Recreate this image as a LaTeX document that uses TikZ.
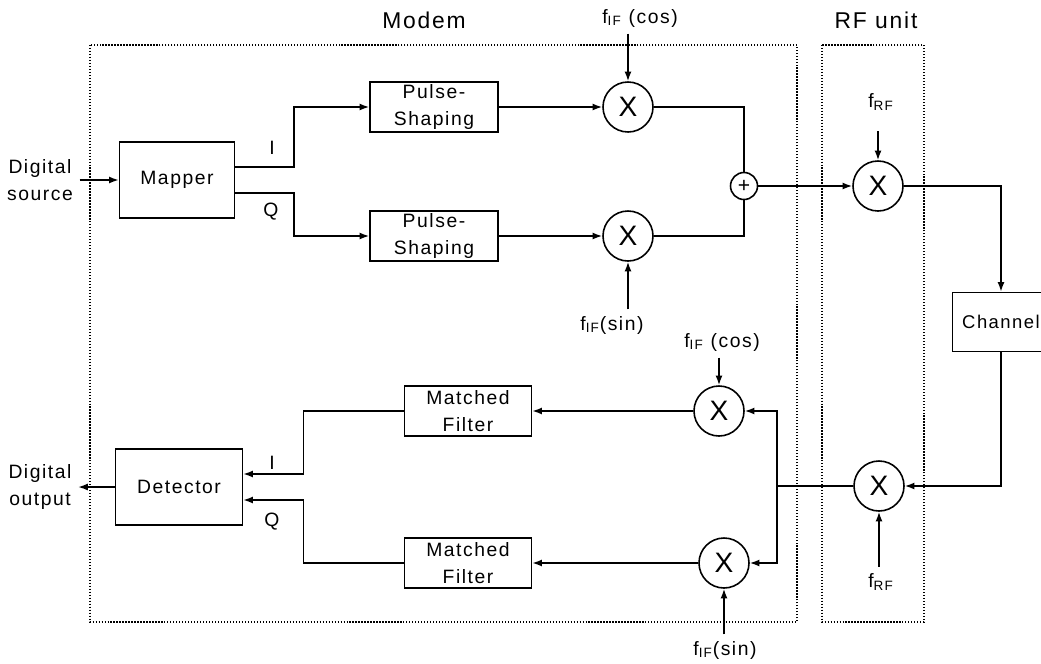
\documentclass[tikz,border=0pt]{standalone}
\usepackage{fontspec}
\setmainfont[LetterSpace=8]{Liberation Sans}
\usetikzlibrary{positioning, calc, arrows.meta}

\begin{document}
\begin{tikzpicture}[x=0.2mm,y=-0.2mm,line width=0.9pt,>={Latex[length=5.5pt,width=4pt]},
    font=\fontsize{11}{15}\selectfont,
    blk/.style={draw, align=center, minimum height=10mm, inner sep=1pt},
    mix/.style={draw, circle, minimum size=10mm, inner sep=0pt, font=\fontsize{16}{16}\selectfont},
    unit/.style={draw, densely dotted, line width=0.7pt}]

    \useasboundingbox (0,0) rectangle (1041,663);

    % Dotted frames
    \draw[unit] (90,45) rectangle (797,622);
    \draw[unit] (822,45) rectangle (924,622);
    \node[font=\fontsize{13}{15}\selectfont] (modem) at (424,20) {Modem};
    \node[font=\fontsize{13}{15}\selectfont] (rfunit) at (876,20) {RF unit};

    % Transmitter blocks
    \node[blk, minimum width=23mm, minimum height=15.2mm] (mapper) at (177,180) {Mapper};
    \node[blk, minimum width=25.6mm] (ps1) at (434,107) {Pulse-\\Shaping};
    \node[blk, minimum width=25.6mm] (ps2) at (434,236) {Pulse-\\Shaping};
    \node[mix] (mixc) at (628,107) {X};
    \node[mix] (mixs) at (628,236) {X};
    \node[draw, circle, minimum size=5.4mm, inner sep=0pt, font=\fontsize{12}{12}\selectfont] (sum) at (744,186) {+};
    \node[mix] (rftx) at (878,186) {X};
    \node[blk, minimum width=19.4mm, minimum height=11.8mm, font=\fontsize{10.5}{13}\selectfont] (chan) at (1001,322) {Channel};

    % Receiver blocks
    \node[mix] (rfrx) at (879,486) {X};
    \coordinate (split) at (777,486);
    \node[mix] (mixrc) at (719,411) {X};
    \node[mix] (mixrs) at (724,563) {X};
    \node[blk, minimum width=25.4mm] (mf1) at (468,411) {Matched\\Filter};
    \node[blk, minimum width=25.4mm] (mf2) at (468,563) {Matched\\Filter};
    \node[blk, minimum width=25.4mm, minimum height=15.2mm] (det) at (179,487) {Detector};

    % Labels
    \node[align=center] (src) at (40,180) {Digital\\source};
    \node[align=center] (out) at (40,487) {Digital\\output};
    \node (ti) at (272,148) {I};
    \node (tq) at (271,212) {Q};
    \node (ri) at (272,463) {I};
    \node (rq) at (272,522) {Q};
    \node (lc1) at (640,18) {f\textsubscript{IF} (cos)};
    \node (ls1) at (612,325) {f\textsubscript{IF}(sin)};
    \node (lrf1) at (881,102) {f\textsubscript{RF}};
    \node (lrf2) at (881,582) {f\textsubscript{RF}};
    \node (lc2) at (722,342) {f\textsubscript{IF} (cos)};
    \node (ls2) at (725,650) {f\textsubscript{IF}(sin)};

    % Transmit path
    \draw[->] (src.east) -- (mapper.west);
    \draw[->] ($(mapper.east)+(0,-13)$) -| ($(ps1.west)+(-75,0)$) -- (ps1.west);
    \draw[->] ($(mapper.east)+(0,13)$) -| ($(ps2.west)+(-75,0)$) -- (ps2.west);
    \draw[->] (ps1) -- (mixc);
    \draw[->] (ps2) -- (mixs);
    \draw (mixc) -| (sum);
    \draw (mixs) -| (sum);
    \draw[->] (sum) -- (rftx);
    \draw[->] (rftx) -| (chan);
    \draw[->] (lc1.south -| mixc) -- (mixc);
    \draw[->] (ls1.north -| mixs) -- (mixs);
    \draw[->, shorten <=8pt] (lrf1.south -| rftx) -- (rftx);

    % Receive path
    \draw[->] (chan) |- (rfrx);
    \draw[->] (lrf2.north -| rfrx) -- (rfrx);
    \draw (rfrx) -- (split);
    \draw[->] (split) |- (mixrc);
    \draw[->] (split) |- (mixrs);
    \draw[->] (lc2.south -| mixrc) -- (mixrc);
    \draw[->] (ls2.north -| mixrs) -- (mixrs);
    \draw[->] (mixrc) -- (mf1);
    \draw[->] (mixrs) -- (mf2);
    \draw[->] (mf1.west) -| ($(det.east)+(60,-13)$) -- ($(det.east)+(0,-13)$);
    \draw[->] (mf2.west) -| ($(det.east)+(60,13)$) -- ($(det.east)+(0,13)$);
    \draw[->] (det) -- (out);
\end{tikzpicture}
\end{document}
